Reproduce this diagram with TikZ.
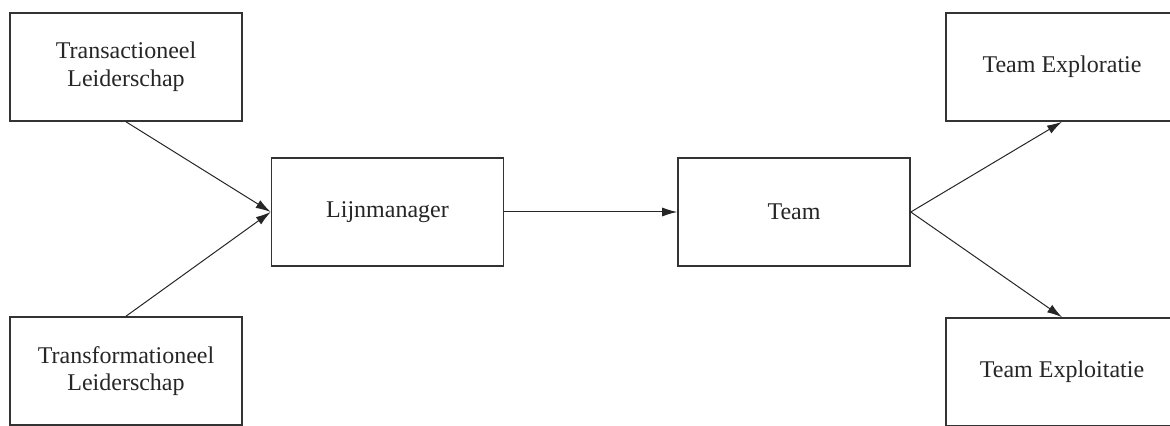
\documentclass[tikz,border=0pt]{standalone}
\usepackage{fontspec}
\setmainfont{Liberation Serif}
\usepackage{tikz}
\usetikzlibrary{arrows.meta,positioning}

\begin{document}
\begin{tikzpicture}[x=0.5pt, y=-0.5pt]
			\tikzstyle{Box}		= [rectangle, draw=black!80, line width=0.8pt, fill=white, minimum width=116pt, minimum height=54pt, inner sep=0pt, align=center, font=\fontsize{12}{13.8}\selectfont, text=black!85]
			\tikzstyle{Link}	= [black!85, line width=0.5pt, -{Latex[length=7.5pt, width=4.5pt]}]

			\useasboundingbox (0, 0) rectangle (1170, 426);

			\node (trans) at (126, 67) [Box] {Transactioneel\\Leiderschap};
			\node (transf) at (126, 371) [Box] {Transformationeel\\Leiderschap};
			\node (lijn) at (387.5, 212) [Box] {Lijnmanager};
			\node (team) at (794, 212) [Box] {Team};
			\node (explor) at (1062, 67) [Box] {Team Exploratie};
			\node (exploit) at (1062, 372) [Box] {Team Exploitatie};

			\draw (trans.south) to (lijn.west) [Link];
			\draw (transf.north) to (lijn.west) [Link];
			\draw (lijn.east) to (team.west) [Link];

			\draw (team.east) to (explor.south) [Link];
			\draw (team.east) to (exploit.north) [Link];
		\end{tikzpicture}
\end{document}
